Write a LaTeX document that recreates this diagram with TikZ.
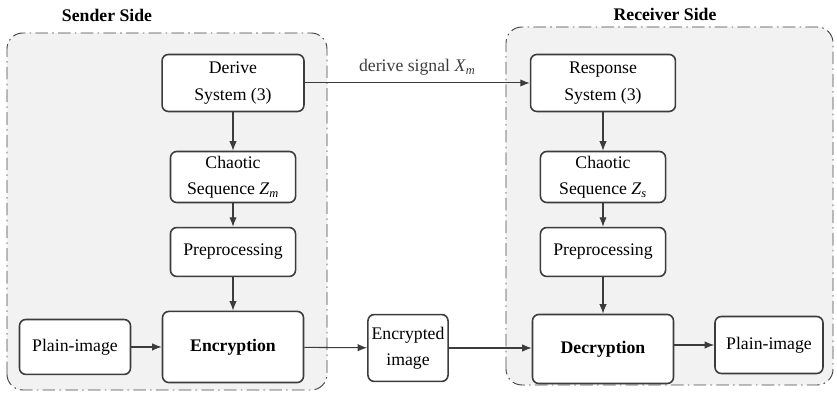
\documentclass[tikz,border=0pt]{standalone}
\usepackage{fontspec}
\setmainfont{Liberation Serif}
\usepackage{xcolor}
\usepackage{tikz}
\usetikzlibrary{arrows.meta, positioning, calc}
\definecolor{boxline}{RGB}{60,60,60}
\definecolor{sidefill}{RGB}{242,242,242}
\definecolor{sideline}{RGB}{70,70,70}

\begin{document}
\begin{tikzpicture}[every node/.style={font=\fontsize{16.8}{25}\selectfont},
    blockbox/.style={draw=boxline, line width=1.5pt, rounded corners=6pt, fill=white, align=center, inner sep=0pt},
    sidearea/.style={draw=sideline, line width=0.9pt, fill=sidefill, rounded corners=15pt, dash pattern=on 12pt off 4pt on 1.5pt off 4pt},
    flow/.style={-{Latex[length=9pt, width=7pt]}, boxline, line width=1pt}]
            \useasboundingbox (0,0) rectangle (27.9,13.133);
            % the two sides
            \draw[sidearea] (0.233,0.133) rectangle (10.9,12.033);
            \draw[sidearea] (16.867,0.3) rectangle (27.767,12.233);
            \node[font=\fontsize{16.8}{25}\selectfont\bfseries] (sendertitle) at (3.567,12.633) {Sender Side};
            \node[font=\fontsize{16.8}{25}\selectfont\bfseries] (receivertitle) at (22.167,12.667) {Receiver Side};
            % sender
            \node[blockbox, minimum width=4.73cm, minimum height=1.9cm] (derive) at (7.767,10.367) {Derive\\System (3)};
            \node[blockbox, minimum width=4.17cm, minimum height=1.7cm] (seqm) at (7.767,7.233) {Chaotic\\Sequence \textit{Z}\textsubscript{\textit{m}}};
            \node[blockbox, minimum width=4.17cm, minimum height=1.63cm] (prem) at (7.767,4.733) {Preprocessing};
            \node[blockbox, minimum width=4.7cm, minimum height=2.37cm, font=\fontsize{16.8}{25}\selectfont\bfseries] (enc) at (7.767,1.567) {Encryption};
            \node[blockbox, minimum width=3.7cm, minimum height=1.83cm] (plainl) at (2.5,1.567) {Plain-image};
            % channel
            \node[blockbox, minimum width=2.67cm, minimum height=2.23cm] (cipher) at (13.6,1.533) {Encrypted\\image};
            % receiver
            \node[blockbox, minimum width=4.83cm, minimum height=1.9cm] (response) at (20.1,10.367) {Response\\System (3)};
            \node[blockbox, minimum width=4.17cm, minimum height=1.7cm] (seqs) at (20.1,7.233) {Chaotic\\Sequence \textit{Z}\textsubscript{\textit{s}}};
            \node[blockbox, minimum width=4.17cm, minimum height=1.63cm] (pres) at (20.1,4.733) {Preprocessing};
            \node[blockbox, minimum width=4.7cm, minimum height=2.3cm, font=\fontsize{16.8}{25}\selectfont\bfseries] (dec) at (20.1,1.5) {Decryption};
            \node[blockbox, minimum width=3.6cm, minimum height=1.9cm] (plainr) at (25.633,1.633) {Plain-image};
            % connectors
            \draw[flow] (derive) -- (seqm);
            \draw[flow] (seqm) -- (prem);
            \draw[flow] (prem) -- (enc);
            \draw[flow] (plainl) -- (enc);
            \draw[flow] (enc) -- (cipher);
            \draw[flow] (cipher.east) -- (cipher.east -| dec.west);
            \draw[flow] (derive) -- node[above=3pt] {derive signal \textit{X}\textsubscript{\textit{m}}} (response);
            \draw[flow] (response) -- (seqs);
            \draw[flow] (seqs) -- (pres);
            \draw[flow] (pres) -- (dec);
            \draw[flow] (dec.east |- plainr.west) -- (plainr);
        \end{tikzpicture}
\end{document}
